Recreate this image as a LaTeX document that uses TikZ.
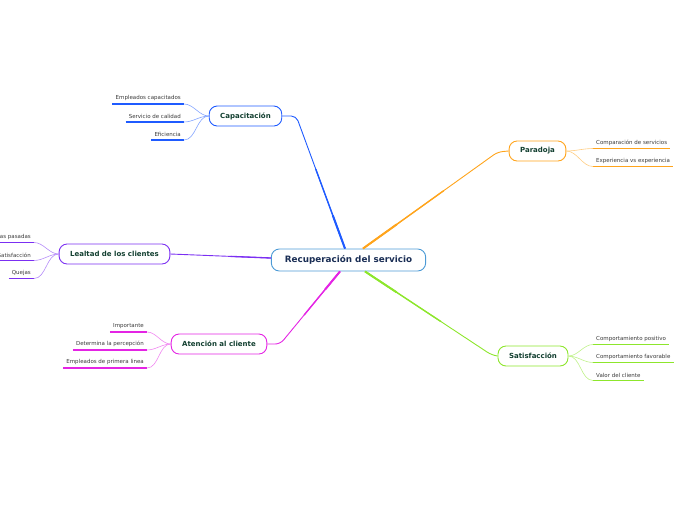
\documentclass[tikz,border=0pt]{standalone}
\usepackage{fontspec}
\setmainfont{DejaVu Sans}
\usetikzlibrary{positioning, calc}

\definecolor{rootline}{HTML}{4D9BD6}
\definecolor{roottext}{HTML}{1A2E55}
\definecolor{topictext}{HTML}{123F30}
\definecolor{leaftext}{HTML}{3A3A3A}
\definecolor{capc}{HTML}{1F5BFF}
\definecolor{parc}{HTML}{FFA41C}
\definecolor{leac}{HTML}{7B2FF2}
\definecolor{atec}{HTML}{E424E4}
\definecolor{satc}{HTML}{8DE62C}

\begin{document}
\begin{tikzpicture}[
    x=1pt, y=-1pt,
    root/.style={draw=rootline, line width=0.9pt, rounded corners=8pt, fill=white, minimum height=22pt, inner xsep=13.5pt, font=\fontsize{8.8}{10}\selectfont\bfseries, text=roottext},
    topic/.style={draw=#1, line width=0.9pt, rounded corners=8pt, fill=white, minimum height=20pt, inner xsep=11pt, font=\fontsize{7}{8}\selectfont\bfseries, text=topictext},
    leaf/.style={font=\fontsize{5.5}{6}\selectfont, text=leaftext, inner xsep=3pt, inner ysep=2.8pt,
        append after command={(\tikzlastnode.south west) edge[draw=#1, line width=1.6pt] (\tikzlastnode.south east)}},
    twig/.style={draw=#1!55, line width=0.6pt},
    trunk/.style={draw=#1, line width=0.9pt, rounded corners=5pt},
]
\useasboundingbox (0,0) rectangle (696,520);

% Central topic
\node[root] (root) at (348.5,260) {Recuperación del servicio};

% Main topics
\node[topic=capc] (cap) at (245.5,116) {Capacitación};
\node[topic=parc] (par) at (537.5,151) {Paradoja};
\node[topic=leac] (lea) at (114.5,254) {Lealtad de los clientes};
\node[topic=atec] (ate) at (219,344) {Atención al cliente};
\node[topic=satc] (sat) at (533,356) {Satisfacción};

% Subtopics - Capacitacion
\node[leaf=capc, anchor=south east] (cap1) at (184,104) {Empleados capacitados};
\node[leaf=capc, anchor=south east] (cap2) at (184,122) {Servicio de calidad};
\node[leaf=capc, anchor=south east] (cap3) at (184,140) {Eficiencia};

% Subtopics - Paradoja
\node[leaf=parc, anchor=south west] (par1) at (593,148.5) {Comparación de servicios};
\node[leaf=parc, anchor=south west] (par2) at (593,166.5) {Experiencia vs experiencia};

% Subtopics - Lealtad
\node[leaf=leac, anchor=south east] (lea1) at (34,242.5) {Experiencias pasadas};
\node[leaf=leac, anchor=south east] (lea2) at (34,260.5) {Satisfacción};
\node[leaf=leac, anchor=south east] (lea3) at (34,278.5) {Quejas};

% Subtopics - Atencion
\node[leaf=atec, anchor=south east] (ate1) at (147,332) {Importante};
\node[leaf=atec, anchor=south east] (ate2) at (147,350) {Determina la percepción};
\node[leaf=atec, anchor=south east] (ate3) at (147,368) {Empleados de primera linea};

% Subtopics - Satisfaccion
\node[leaf=satc, anchor=south west] (sat1) at (593,344.5) {Comportamiento positivo};
\node[leaf=satc, anchor=south west] (sat2) at (593,362.5) {Comportamiento favorable};
\node[leaf=satc, anchor=south west] (sat3) at (593,380.5) {Valor del cliente};

% Branch points on the central topic
\coordinate (rcap) at ($(root.north)+(-3.5,0)$);
\coordinate (rpar) at ($(root.north)+(14.5,0)$);
\coordinate (rlea) at ($(root.west)+(0,-2)$);
\coordinate (rate) at ($(root.south)+(-8.5,0)$);
\coordinate (rsat) at ($(root.south)+(16.5,0)$);
\coordinate (bcap) at ($(cap.east)+(14,0)$);
\coordinate (bpar) at ($(par.west)+(-11,1)$);
\coordinate (blea) at (lea.east);
\coordinate (bate) at ($(ate.east)+(13,0)$);
\coordinate (bsat) at ($(sat.west)+(-6,-1)$);

% --- Main connectors ---
\draw[trunk=capc] (rcap) -- (bcap) -- (cap.east);
\draw[trunk=parc] (rpar) -- (bpar) -- (par.west);
\draw[trunk=leac] (rlea) -- (lea.east);
\draw[trunk=atec] (rate) -- (bate) -- (ate.east);
\draw[trunk=satc] (rsat) -- (bsat) -- (sat.west);

% tapering near the centre
\foreach \c/\a/\b in {capc/rcap/bcap, parc/rpar/bpar, atec/rate/bate, satc/rsat/bsat} {
    \draw[\c, line width=1.4pt] (\a) -- ($(\a)!0.6!(\b)$);
    \draw[\c, line width=2pt] (\a) -- ($(\a)!0.25!(\b)$);
}
\draw[leac, line width=1.3pt] (rlea) -- ($(rlea)!0.4!(blea)$);

% --- Sub connectors ---
\foreach \n in {cap1,cap2,cap3}
    \draw[twig=capc] (cap.west) to[out=180, in=0, looseness=0.9] (\n.south east);
\foreach \n in {lea1,lea2,lea3}
    \draw[twig=leac] (lea.west) to[out=180, in=0, looseness=0.9] (\n.south east);
\foreach \n in {ate1,ate2,ate3}
    \draw[twig=atec] (ate.west) to[out=180, in=0, looseness=0.9] (\n.south east);
\foreach \n in {par1,par2}
    \draw[twig=parc] (par.east) to[out=0, in=180, looseness=0.9] (\n.south west);
\foreach \n in {sat1,sat2,sat3}
    \draw[twig=satc] (sat.east) to[out=0, in=180, looseness=0.9] (\n.south west);

\end{tikzpicture}
\end{document}
